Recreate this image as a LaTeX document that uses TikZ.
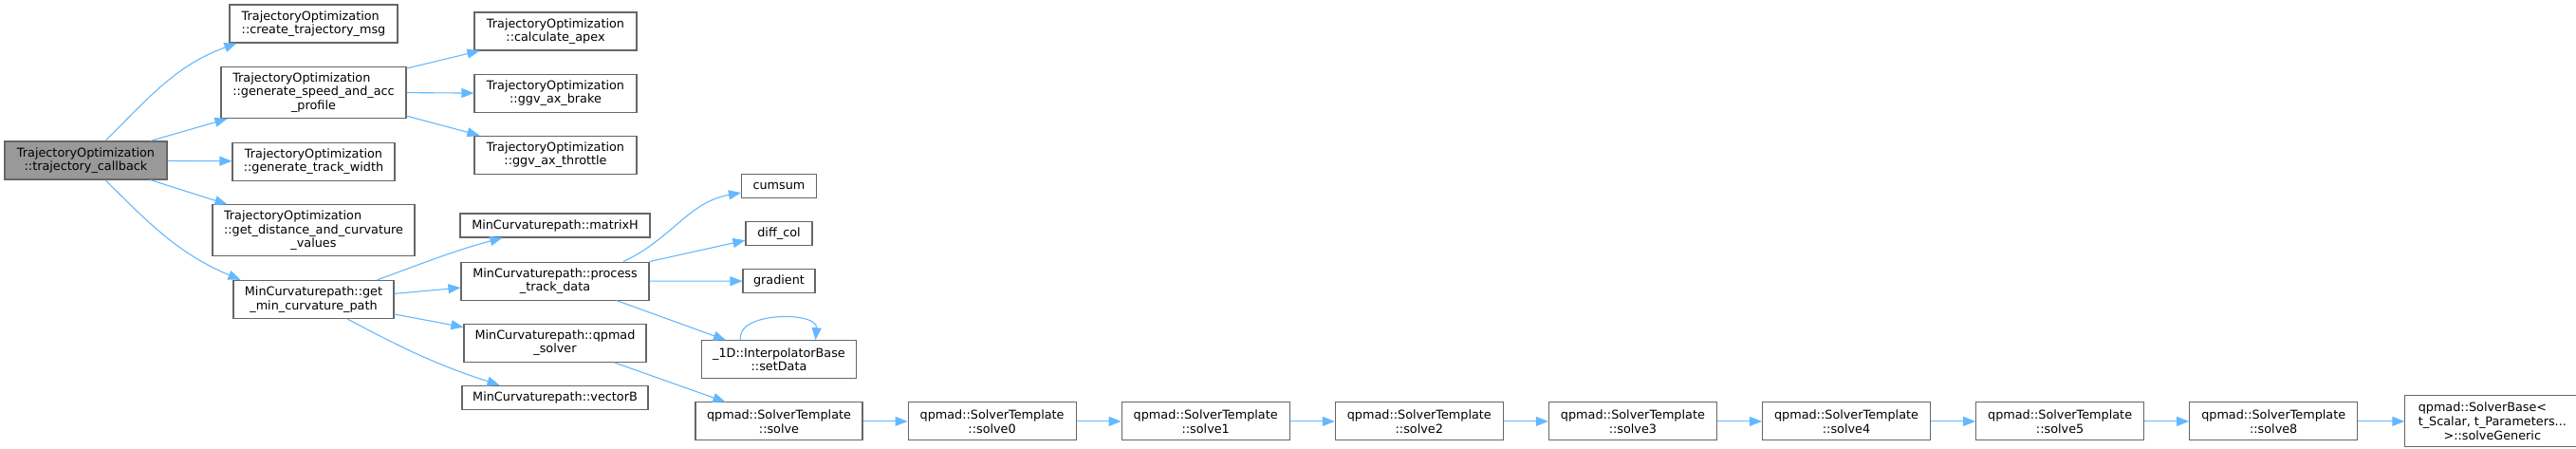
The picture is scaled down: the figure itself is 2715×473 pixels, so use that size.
\documentclass[tikz,border=0pt]{standalone}
\usepackage{fontspec}
\setmainfont{DejaVu Sans}
\usepackage{tikz}
\usetikzlibrary{positioning, arrows.meta}
\definecolor{edgeblue}{HTML}{63B8FF}
\definecolor{boxline}{HTML}{666666}
\definecolor{rootgray}{HTML}{999999}

\begin{document}
\begin{tikzpicture}[
        x=1pt, y=1pt,
        node distance=24pt,
        >={Triangle[length=13pt, width=10pt]},
        every node/.style={
            draw=boxline,
            rectangle,
            fill=white,
            align=center,
            line width=1.1pt,
            inner sep=0pt,
            font=\fontsize{12.8}{14.7}\selectfont,
            minimum height=25pt
        },
        twoline/.style={minimum height=40pt},
        threeline/.style={minimum height=54pt},
        link/.style={->, draw=edgeblue, line width=1.1pt}
    ]
        \useasboundingbox (0,0) rectangle (2715,-473);

        \node (callback) [fill=rootgray, twoline, minimum width=171pt] at (90.5,-169) {TrajectoryOptimization\\::trajectory\_callback};

        % callers of the second column
        \node (msg) [twoline, minimum width=177pt] at (330.5,-25) {\makebox[0pt][l]{TrajectoryOptimization}\phantom{::create\_trajectory\_msg}\\::create\_trajectory\_msg};
        \node (speed) [threeline, minimum width=195pt, below=24.5pt of msg] {\makebox[0pt][l]{TrajectoryOptimization}\phantom{::generate\_speed\_and\_acc}\\::generate\_speed\_and\_acc\\\_profile};
        \node (width) [twoline, minimum width=171pt, below=24.5pt of speed] {TrajectoryOptimization\\::generate\_track\_width};
        \node (curv) [threeline, minimum width=213pt, below=24.5pt of width] {\makebox[0pt][l]{TrajectoryOptimization}\phantom{::get\_distance\_and\_curvature}\\::get\_distance\_and\_curvature\\\_values};
        \node (minpath) [twoline, minimum width=169pt, below=24.5pt of curv] {MinCurvaturepath::get\\\_min\_curvature\_path};

        \node (apex) [twoline, minimum width=171pt] at (585.5,-33) {TrajectoryOptimization\\::calculate\_apex};
        \node (brake) [twoline, minimum width=171pt, below=of apex] {TrajectoryOptimization\\::ggv\_ax\_brake};
        \node (throttle) [twoline, minimum width=171pt, below=of brake] {TrajectoryOptimization\\::ggv\_ax\_throttle};

        \node (matrixH) [minimum width=200pt] at (585,-237.5) {MinCurvaturepath::matrixH};
        \node (process) [twoline, minimum width=198pt, below=25pt of matrixH] {MinCurvaturepath::process\\\_track\_data};
        \node (qpsolver) [twoline, minimum width=192pt, below=of process] {MinCurvaturepath::qpmad\\\_solver};
        \node (vectorB) [minimum width=196pt, below=of qpsolver] {MinCurvaturepath::vectorB};

        \node (cumsum) [minimum width=79pt] at (821,-196) {cumsum};
        \node (diffcol) [minimum width=70pt, below=of cumsum] {diff\_col};
        \node (gradient) [minimum width=76pt, below=of diffcol] {gradient};
        \node (setdata) [twoline, minimum width=163pt, below=49pt of gradient] {\_1D::InterpolatorBase\\::setData};
        \node (solve) [twoline, minimum width=176pt, below=of setdata] {qpmad::SolverTemplate\\::solve};

        % solver chain
        \node (solve0) [twoline, minimum width=177pt, right=47pt of solve] {qpmad::SolverTemplate\\::solve0};
        \node (solve1) [twoline, minimum width=177pt, right=47pt of solve0] {qpmad::SolverTemplate\\::solve1};
        \node (solve2) [twoline, minimum width=177pt, right=47pt of solve1] {qpmad::SolverTemplate\\::solve2};
        \node (solve3) [twoline, minimum width=177pt, right=47pt of solve2] {qpmad::SolverTemplate\\::solve3};
        \node (solve4) [twoline, minimum width=177pt, right=47pt of solve3] {qpmad::SolverTemplate\\::solve4};
        \node (solve5) [twoline, minimum width=177pt, right=47pt of solve4] {qpmad::SolverTemplate\\::solve5};
        \node (solve8) [twoline, minimum width=177pt, right=47pt of solve5] {qpmad::SolverTemplate\\::solve8};
        \node (generic) [threeline, minimum width=184pt, right=49pt of solve8] {\makebox[0pt][l]{qpmad::SolverBase<}\phantom{t\_Scalar, t\_Parameters...}\\t\_Scalar, t\_Parameters...\\>::solveGeneric};

        \draw[link] ([xshift=20.5pt]callback.north) to[out=45, in=200] ([xshift=8pt]msg.south west);
        \draw[link] ([xshift=-18pt]callback.north east) -- ([xshift=7pt]speed.south west);
        \draw[link] (callback) -- (width);
        \draw[link] ([xshift=-18pt]callback.south east) -- ([xshift=16pt]curv.north west);
        \draw[link] ([xshift=20.5pt]callback.south) to[out=-45, in=157] ([xshift=8pt]minpath.north west);

        \draw[link] ([yshift=-2pt]speed.north east) -- ([xshift=6pt]apex.south west);
        \draw[link] (speed.east) -- (brake.west);
        \draw[link] ([yshift=3pt]speed.south east) -- ([xshift=6pt]throttle.north west);

        \draw[link] ([xshift=-18pt]minpath.north east) to[out=20, in=195] ([xshift=45pt]matrixH.south west);
        \draw[link] ([yshift=6pt]minpath.east) -- ([yshift=-7pt]process.west);
        \draw[link] ([yshift=5pt]minpath.south east) -- ([yshift=-4pt]qpsolver.north west);
        \draw[link] ([xshift=35.5pt]minpath.south) to[out=-28, in=162] ([xshift=40pt]vectorB.north west);

        \draw[link] ([xshift=72pt]process.north) to[out=25, in=190] ([yshift=6pt]cumsum.south west);
        \draw[link] (process.north east) -- ([yshift=6pt]diffcol.south west);
        \draw[link] (process.east) -- (gradient.west);
        \draw[link] ([xshift=65pt]process.south) -- ([xshift=26pt]setdata.north west);
        \draw[link] ([xshift=-40.5pt]setdata.north) to[out=100, in=85] ([xshift=38.5pt]setdata.north);
        \draw[link] ([xshift=62pt]qpsolver.south) -- ([xshift=32pt]solve.north west);

        \draw[link] (solve) -- (solve0);
        \draw[link] (solve0) -- (solve1);
        \draw[link] (solve1) -- (solve2);
        \draw[link] (solve2) -- (solve3);
        \draw[link] (solve3) -- (solve4);
        \draw[link] (solve4) -- (solve5);
        \draw[link] (solve5) -- (solve8);
        \draw[link] (solve8) -- (generic);
    \end{tikzpicture}
\end{document}
